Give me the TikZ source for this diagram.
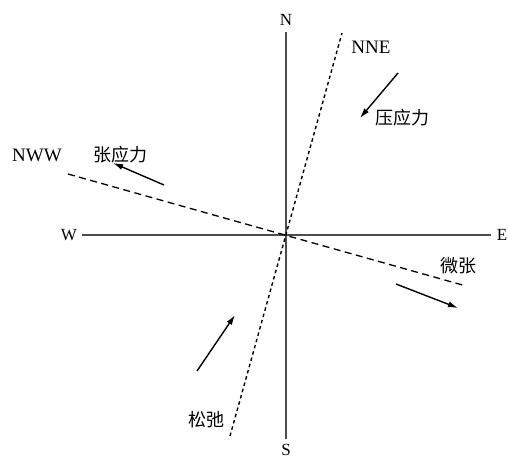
\documentclass[tikz,border=0pt]{standalone}
\usepackage{fontspec}
\setmainfont{Liberation Serif}
\newfontfamily\cjk{Noto Sans CJK SC}
\usetikzlibrary{arrows.meta}
\begin{document}
\begin{tikzpicture}[x=1pt,y=-1pt,
  axis/.style={draw=black!70,line width=1.4pt},
  dashline/.style={draw=black,line width=1.3pt,dash pattern=on 7pt off 4.5pt},
  dotline/.style={draw=black,line width=1.4pt,dash pattern=on 3.5pt off 3pt},
  stressarrow/.style={draw=black,line width=1.4pt,-{Latex[length=10pt,width=6pt]}},
  lab/.style={inner sep=0pt,font=\fontsize{17}{17}\selectfont},
  biglab/.style={inner sep=0pt,font=\fontsize{19}{19}\selectfont},
  cjklab/.style={inner sep=0pt,font=\cjk\fontsize{18}{18}\selectfont}]
\useasboundingbox (0,0) rectangle (508,458);
% axes
\coordinate (O) at (286,235);
\coordinate (Ntop) at (286,32);
\coordinate (Sbot) at (286,439);
\coordinate (Wl) at (82,235);
\coordinate (Er) at (491,235);
\draw[axis] (Ntop) -- (Sbot);
\draw[axis] (Wl) -- (Er);
\node[lab] (N) at (286,20) {N};
\node[lab,anchor=north] (S) at (286,444) {S};
\node[lab] (W) at (69,235) {W};
\node[lab] (E) at (502,235) {E};
% fault lines
\coordinate (nneT) at (342,33);
\coordinate (nneB) at (230,436);
\draw[dotline] (nneB) -- (nneT);
\coordinate (nwwL) at (68,174);
\coordinate (nwwR) at (466,286);
\draw[dashline] (nwwL) -- (nwwR);
\node[biglab] (NNE) at (371,47) {NNE};
\node[biglab] (NWW) at (37,155) {NWW};
% labels
\node[cjklab] (ya) at (402,118) {压应力};
\node[cjklab] (zhang) at (120,155) {张应力};
\node[cjklab] (wei) at (458,266) {微张};
\node[cjklab] (song) at (206,420) {松弛};
% arrows
\coordinate (a1s) at (398,73);
\coordinate (a1e) at (360,118);
\draw[stressarrow] (a1s) -- (a1e);
\coordinate (a2s) at (164,185);
\coordinate (a2e) at (113,163);
\draw[stressarrow] (a2s) -- (a2e);
\coordinate (a3s) at (396,284);
\coordinate (a3e) at (458,308);
\draw[stressarrow] (a3s) -- (a3e);
\coordinate (a4s) at (197,371);
\coordinate (a4e) at (235,315);
\draw[stressarrow] (a4s) -- (a4e);
\end{tikzpicture}
\end{document}
